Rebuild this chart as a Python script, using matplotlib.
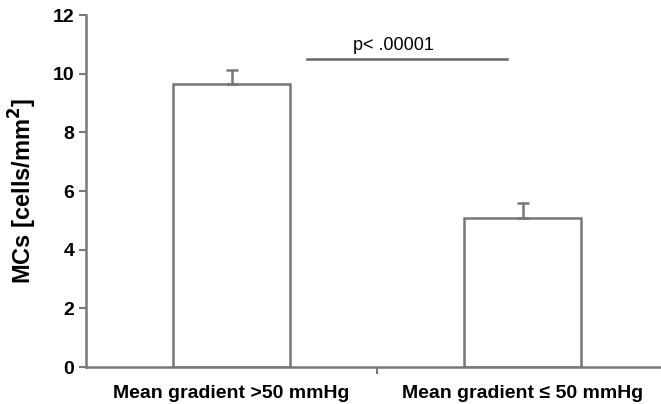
import matplotlib
matplotlib.use('Agg')
import matplotlib.pyplot as plt
from matplotlib.ticker import FixedLocator

categories = ['Mean gradient >50 mmHg', 'Mean gradient \u2264 50 mmHg']
means = [9.65, 5.09]
errors = [0.47, 0.51]
p_text = 'p< .00001'
p_level = 10.5
yticks = [0, 2, 4, 6, 8, 10, 12]

plt.rcParams['font.family'] = ['Liberation Sans', 'DejaVu Sans']
grey = '#777777'

fig = plt.figure(figsize=(6.61, 4.04), dpi=100)
ax = fig.add_axes([86 / 661, 1 - 367 / 404, (668 - 86) / 661, (367 - 15) / 404])

x = [0, 1]
ax.bar(x, means, width=0.4, color='white', edgecolor=grey, linewidth=1.8, zorder=2)
ax.errorbar(x, means, yerr=[[0, 0], errors], fmt='none', ecolor=grey,
            elinewidth=1.8, capsize=4, capthick=1.8, zorder=3)

# significance line
ax.plot([0.258, 0.947], [p_level, p_level], color='#666666', lw=1.8, clip_on=False)
ax.text(0.555, p_level + 0.18, p_text, ha='center', va='bottom', fontsize=13)

ax.set_xlim(-0.5, 1.5)
ax.set_ylim(0, 12)
ax.set_yticks(yticks)
ax.set_xticks(x)
ax.set_xticklabels(categories, fontsize=14, fontweight='bold')
ax.xaxis.set_minor_locator(FixedLocator([0.5]))
ax.tick_params(axis='x', which='major', length=0, pad=13)
ax.tick_params(axis='x', which='minor', length=5, color=grey, width=1.5)
ax.tick_params(axis='y', length=5, color=grey, width=1.5, labelsize=14)
for lbl in ax.get_yticklabels():
    lbl.set_fontweight('bold')

ax.set_ylabel('MCs [cells/mm$^\\mathbf{2}$]', fontsize=17, fontweight='bold', labelpad=10)

for side in ['top', 'right']:
    ax.spines[side].set_visible(False)
for side in ['left', 'bottom']:
    ax.spines[side].set_color(grey)
    ax.spines[side].set_linewidth(1.8)

fig.savefig('out.png', dpi=100)
